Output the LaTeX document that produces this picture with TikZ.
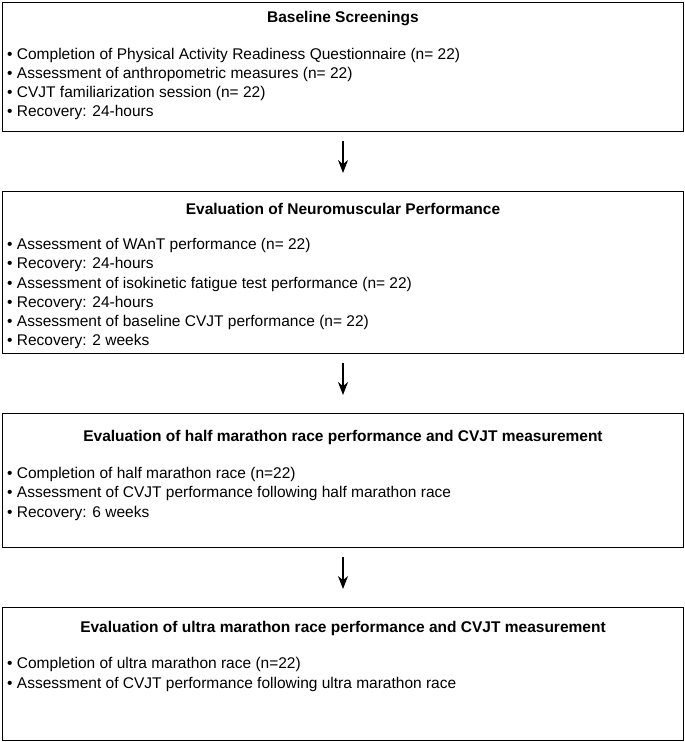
\documentclass[tikz,border=0pt]{standalone}
\usepackage{fontspec}
\setmainfont{Liberation Sans}
\usetikzlibrary{arrows.meta}
\begin{document}
\begin{tikzpicture}[x=1pt,y=-1pt,
  box/.style={draw,line width=1pt},
  ttl/.style={font=\fontsize{15.5}{17}\selectfont\bfseries},
  itm/.style={anchor=west,font=\fontsize{15.5}{17}\selectfont,inner sep=0pt},
  arr/.style={-{Stealth[length=13pt,width=10pt]},line width=1.2pt}]
\useasboundingbox (0,0) rectangle (685,742);
\draw[box] (2,2) rectangle (683,131);
\draw[box] (2,191) rectangle (683,353);
\draw[box] (2,413) rectangle (683,547);
\draw[box] (2,607) rectangle (683,740);
\node[ttl] (t1) at (343,19) {Baseline Screenings};
\node[itm] (a1) at (7,55) {• Completion of Physical Activity Readiness Questionnaire (n= 22)};
\node[itm] (a2) at (7,74) {• Assessment of anthropometric measures (n= 22)};
\node[itm] (a3) at (7,93) {• CVJT familiarization session (n= 22)};
\node[itm] (a4) at (7,112) {• Recovery: 24-hours};
\node[ttl] (t2) at (343,209) {Evaluation of Neuromuscular Performance};
\node[itm] (b1) at (7,245) {• Assessment of WAnT performance (n= 22)};
\node[itm] (b2) at (7,264) {• Recovery: 24-hours};
\node[itm] (b3) at (7,284) {• Assessment of isokinetic fatigue test performance (n= 22)};
\node[itm] (b4) at (7,303) {• Recovery: 24-hours};
\node[itm] (b5) at (7,322) {• Assessment of baseline CVJT performance (n= 22)};
\node[itm] (b6) at (7,341) {• Recovery: 2 weeks};
\node[ttl] (t3) at (343,437) {Evaluation of half marathon race performance and CVJT measurement};
\node[itm] (c1) at (7,474) {• Completion of half marathon race (n=22)};
\node[itm] (c2) at (7,493) {• Assessment of CVJT performance following half marathon race};
\node[itm] (c3) at (7,513) {• Recovery: 6 weeks};
\node[ttl] (t4) at (343,628) {Evaluation of ultra marathon race performance and CVJT measurement};
\node[itm] (d1) at (7,664) {• Completion of ultra marathon race (n=22)};
\node[itm] (d2) at (7,684) {• Assessment of CVJT performance following ultra marathon race};
\coordinate (p1) at (343,141); \coordinate (q1) at (343,173);
\coordinate (p2) at (343,363); \coordinate (q2) at (343,395);
\coordinate (p3) at (343,557); \coordinate (q3) at (343,589);
\draw[arr] (p1) -- (q1);
\draw[arr] (p2) -- (q2);
\draw[arr] (p3) -- (q3);
\end{tikzpicture}
\end{document}
